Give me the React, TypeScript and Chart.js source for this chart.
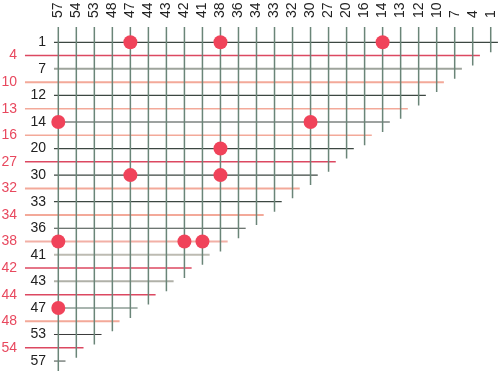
import React, { useEffect, useRef } from "react";
import { Chart, registerables } from "chart.js";

Chart.register(...registerables);

// ---- data ----
const rowLabels = [1, 4, 7, 10, 12, 13, 14, 16, 20, 27, 30, 32, 33, 34, 36, 38, 41, 42, 43, 44, 47, 48, 53, 54, 57];
const columnLabels = [57, 54, 53, 48, 47, 44, 43, 42, 41, 38, 36, 34, 33, 32, 30, 27, 20, 16, 14, 13, 12, 10, 7, 4, 1];
// marked cells: row value / column value
const dotRows = [1, 1, 1, 14, 14, 20, 30, 30, 38, 38, 38, 47];
const dotCols = [47, 38, 14, 57, 30, 38, 47, 38, 57, 42, 41, 57];

// ---- styles ----
const DARK = "#3c4742";
const CRIMSON = "#dc4861";
const SALMON = "#f3a999";
const rowLineColors = [
  DARK, CRIMSON, "#9ea49c", SALMON, DARK, SALMON, DARK, SALMON, DARK, CRIMSON,
  DARK, SALMON, DARK, SALMON, DARK, "#f2b0a6", "#bdbbb2", CRIMSON, "#b0b1a8", CRIMSON,
  "#8c9c94", SALMON, "#3a3a3a", CRIMSON, DARK,
];
const rowLineWidths = [
  1.2, 1.5, 2, 2, 1.2, 1.5, 1.2, 1.5, 1.2, 1.5,
  1.2, 2, 1.2, 2, 1.2, 2, 2, 1.5, 2, 1.5,
  1.5, 2, 1, 1.5, 1,
];
const VERTICAL = "#6a8578";
const DOT = "#f0435a";
const LABEL_DARK = "#222222";
const LABEL_RED = "#e8485e";
const FONT = '14px "Liberation Sans", Arial, Helvetica, sans-serif';

export default function App() {
  const ref = useRef<HTMLCanvasElement | null>(null);

  useEffect(() => {
    if (!ref.current) return;

    const datasets: any[] = [];
    datasets.push({
      label: "marks",
      data: dotRows.map((r, i) => ({ x: columnLabels.indexOf(dotCols[i]), y: rowLabels.indexOf(r) })),
      pointRadius: 7,
      pointHoverRadius: 7,
      pointBackgroundColor: DOT,
      pointBorderWidth: 0,
      showLine: false,
    });
    columnLabels.forEach((v, c) => {
      datasets.push({
        label: "col" + v,
        data: [
          { x: c, y: -1.15 },
          { x: c, y: rowLabels.indexOf(v) + 0.75 },
        ],
        showLine: true,
        borderColor: VERTICAL,
        borderWidth: 1.5,
        pointRadius: 0,
      });
    });
    rowLabels.forEach((v, r) => {
      datasets.push({
        label: "row" + v,
        data: [
          { x: r % 2 === 0 ? -0.24 : -1.85, y: r },
          { x: columnLabels.indexOf(v) + 0.4, y: r },
        ],
        showLine: true,
        borderColor: rowLineColors[r],
        borderWidth: rowLineWidths[r],
        pointRadius: 0,
      });
    });

    const labelPlugin = {
      id: "labels",
      afterDraw(chart: any) {
        const ctx = chart.ctx;
        const xs = chart.scales.x;
        const ys = chart.scales.y;
        ctx.save();
        ctx.font = FONT;
        // top labels (rotated)
        ctx.fillStyle = LABEL_DARK;
        columnLabels.forEach((v, c) => {
          const px = xs.getPixelForValue(c);
          ctx.save();
          ctx.translate(px, 18);
          ctx.rotate(-Math.PI / 2);
          ctx.textAlign = "left";
          ctx.textBaseline = "middle";
          ctx.fillText(String(v), 0, 0);
          ctx.restore();
        });
        // left labels
        ctx.textAlign = "right";
        ctx.textBaseline = "middle";
        rowLabels.forEach((v, r) => {
          const py = ys.getPixelForValue(r);
          if (r % 2 === 0) {
            ctx.fillStyle = LABEL_DARK;
            ctx.fillText(String(v), 46, py);
          } else {
            ctx.fillStyle = LABEL_RED;
            ctx.fillText(String(v), 17, py);
          }
        });
        ctx.restore();
      },
    };

    const chart = new Chart(ref.current, {
      type: "scatter",
      data: { datasets },
      options: {
        animation: false,
        responsive: false,
        events: [],
        layout: { padding: 0, autoPadding: false },
        plugins: { legend: { display: false }, tooltip: { enabled: false } },
        scales: {
          x: { type: "linear", display: false, min: -3.236, max: 24.515 },
          y: { type: "linear", display: false, min: -3.185, max: 25.2, reverse: true },
        },
      },
      plugins: [labelPlugin],
    } as any);

    return () => chart.destroy();
  }, []);

  return (
    <div style={{ position: "fixed", left: 0, top: 0, width: 500, height: 377, background: "#fff" }}>
      <canvas ref={ref} width={500} height={377} />
    </div>
  );
}
